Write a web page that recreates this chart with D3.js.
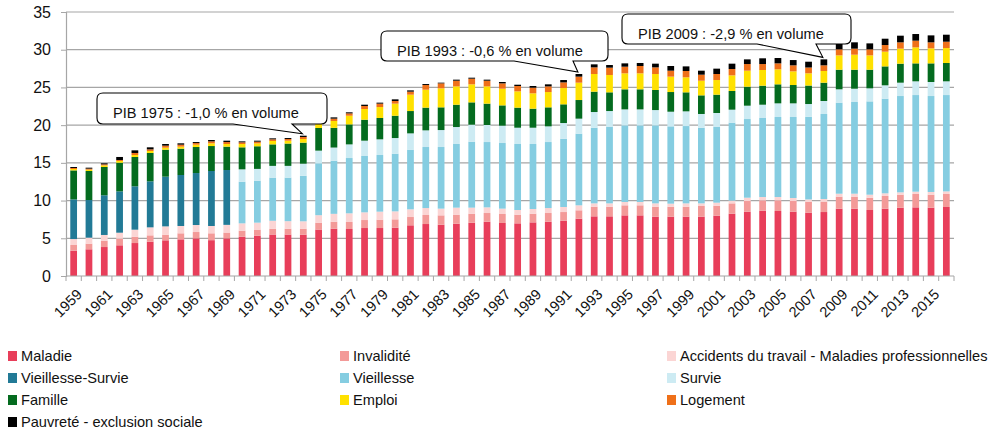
<!DOCTYPE html>
<html lang="fr">
<head>
    <meta charset="UTF-8">
    <script src="https://cdn.jsdelivr.net/npm/d3@7"></script>
    <title>prestations sociales</title>
    <style>
        body { margin: 0; background: #fff; }
        text { font-family: "Liberation Sans", Arial, sans-serif; fill: #111; }
    </style>
</head>
<body>
<svg id="chart" width="999" height="433"></svg>

<script>
    // valeurs (en % du PIB)
    let years = d3.range(1959, 2017);

    let maladie = [3.36, 3.54, 3.84, 4.07, 4.37, 4.55, 4.73, 4.86, 4.99, 4.75,
        4.99, 5.21, 5.35, 5.5, 5.5, 5.48, 6.16, 6.27, 6.23, 6.36,
        6.36, 6.41, 6.72, 6.89, 6.8, 6.94, 7.07, 7.2, 7.03, 6.98,
        7.11, 7.2, 7.34, 7.6, 7.91, 7.91, 8.04, 8.04, 7.87, 7.87,
        7.87, 7.87, 8.0, 8.26, 8.53, 8.66, 8.62, 8.53, 8.4, 8.48,
        8.93, 8.93, 8.75, 8.93, 9.06, 9.1, 9.06, 9.15];
    let invalidite = [0.75, 0.75, 0.84, 0.88, 0.84, 0.84, 0.75, 0.8, 0.84, 0.91,
        0.77, 0.8, 0.8, 0.77, 0.77, 0.79, 0.91, 0.93, 0.93, 1.06,
        1.11, 1.1, 1.1, 1.2, 1.24, 1.19, 1.19, 1.15, 1.19, 1.15,
        1.15, 1.15, 1.14, 1.11, 1.28, 1.28, 1.33, 1.33, 1.32, 1.32,
        1.32, 1.41, 1.32, 1.37, 1.41, 1.37, 1.41, 1.41, 1.43, 1.37,
        1.59, 1.59, 1.63, 1.68, 1.72, 1.77, 1.72, 1.72];
    let accidents = [0.79, 0.79, 0.76, 0.79, 0.93, 1.06, 1.1, 0.97, 0.93, 0.97,
        1.02, 0.97, 0.92, 1.05, 1.0, 0.98, 0.99, 1.04, 1.15, 1.02,
        1.06, 1.06, 1.02, 0.92, 0.89, 0.93, 0.8, 0.75, 0.71, 0.62,
        0.62, 0.66, 0.67, 0.66, 0.44, 0.44, 0.44, 0.44, 0.44, 0.4,
        0.44, 0.35, 0.4, 0.36, 0.44, 0.44, 0.44, 0.4, 0.32, 0.36,
        0.39, 0.39, 0.4, 0.35, 0.31, 0.31, 0.36, 0.35];
    let vieillesseSurvie = [5.26, 4.99, 5.26, 5.48, 5.75, 6.1, 6.59, 6.76, 6.89, 7.29,
        7.27, 0, 0, 0, 0, 0, 0, 0, 0, 0,
        0, 0, 0, 0, 0, 0, 0, 0, 0, 0,
        0, 0, 0, 0, 0, 0, 0, 0, 0, 0,
        0, 0, 0, 0, 0, 0, 0, 0, 0, 0,
        0, 0, 0, 0, 0, 0, 0, 0];
    let vieillesse = [0, 0, 0, 0, 0, 0, 0, 0, 0, 0,
        0, 5.52, 5.57, 5.72, 5.77, 6.03, 6.88, 7.05, 7.33, 7.47,
        7.51, 7.65, 7.91, 8.09, 8.17, 8.44, 8.75, 8.66, 8.7, 8.75,
        8.62, 8.75, 9.05, 9.5, 10.03, 10.17, 10.16, 10.16, 10.34, 10.25,
        10.25, 10.03, 10.08, 10.34, 10.43, 10.48, 10.61, 10.74, 10.95, 11.27,
        12.07, 12.16, 12.37, 12.55, 12.77, 12.81, 12.72, 12.77];
    let survie = [0, 0, 0, 0, 0, 0, 0, 0, 0, 0,
        0, 1.64, 1.56, 1.56, 1.56, 1.61, 1.68, 1.74, 1.81, 2.03,
        2.08, 2.07, 2.16, 2.21, 2.25, 2.25, 2.25, 2.26, 2.3, 2.16,
        2.16, 2.08, 2.08, 1.99, 2.08, 2.07, 2.12, 2.12, 2.03, 1.94,
        1.95, 1.82, 1.81, 1.72, 1.77, 1.76, 1.81, 1.81, 1.7, 1.72,
        1.77, 1.76, 1.73, 1.77, 1.77, 1.82, 1.86, 1.82];
    let famille = [3.84, 3.85, 3.75, 3.8, 3.89, 3.76, 3.58, 3.49, 3.45, 3.31,
        3.1, 2.92, 3.0, 2.85, 2.96, 2.79, 3.0, 2.61, 2.65, 2.78,
        2.83, 2.96, 2.96, 3.01, 3.01, 2.96, 2.96, 2.83, 2.69, 2.66,
        2.52, 2.52, 2.48, 2.47, 2.7, 2.48, 2.66, 2.66, 2.66, 2.61,
        2.52, 2.47, 2.43, 2.48, 2.52, 2.52, 2.52, 2.43, 2.45, 2.43,
        2.6, 2.52, 2.47, 2.51, 2.52, 2.38, 2.47, 2.43];
    let emploi = [0.18, 0.18, 0.22, 0.23, 0.26, 0.26, 0.26, 0.27, 0.31, 0.36,
        0.35, 0.44, 0.39, 0.45, 0.38, 0.48, 0.53, 0.91, 1.15, 1.42,
        1.45, 1.6, 2.17, 2.38, 2.52, 2.43, 2.39, 2.29, 2.21, 2.16,
        2.04, 2.03, 2.16, 2.3, 2.34, 2.3, 2.12, 2.12, 2.12, 2.04,
        1.99, 1.94, 1.94, 2.07, 2.12, 2.08, 1.99, 1.81, 1.62, 1.55,
        1.9, 1.99, 1.9, 1.95, 1.99, 2.12, 1.99, 1.98];
    let logement = [0.14, 0.13, 0.13, 0.13, 0.27, 0.22, 0.27, 0.26, 0.22, 0.26,
        0.26, 0.22, 0.22, 0.22, 0.22, 0.27, 0.27, 0.31, 0.31, 0.4,
        0.45, 0.35, 0.4, 0.62, 0.66, 0.75, 0.75, 0.75, 0.71, 0.71,
        0.75, 0.75, 0.75, 0.8, 0.88, 0.97, 0.88, 0.97, 0.88, 0.79,
        0.84, 0.8, 0.8, 0.84, 0.88, 0.79, 0.79, 0.8, 0.77, 0.75,
        0.8, 0.8, 0.8, 0.88, 0.84, 0.89, 0.8, 0.84];
    let pauvrete = [0.13, 0.13, 0.14, 0.4, 0.35, 0.27, 0.22, 0.18, 0.13, 0.18,
        0.18, 0.13, 0.13, 0.13, 0.13, 0.17, 0.18, 0.17, 0.14, 0.17,
        0.13, 0.22, 0.17, 0.13, 0.09, 0.14, 0.13, 0.14, 0.18, 0.17,
        0.22, 0.27, 0.31, 0.35, 0.4, 0.35, 0.44, 0.4, 0.49, 0.62,
        0.61, 0.53, 0.71, 0.71, 0.62, 0.76, 0.71, 0.7, 0.77, 0.79,
        0.79, 0.84, 0.79, 0.84, 0.88, 0.88, 0.92, 0.93];

    let seriesNames = ["Maladie", "Invalidité", "Accidents du travail - Maladies professionnelles",
        "Vieillesse-Survie", "Vieillesse", "Survie", "Famille", "Emploi", "Logement",
        "Pauvreté - exclusion sociale"];
    let seriesColors = ["#e83e5a", "#f39a98", "#fbd5d4", "#227a96", "#85cde1", "#cdebf3",
        "#046b1f", "#ffe100", "#ef7019", "#000000"];
    let seriesValues = [maladie, invalidite, accidents, vieillesseSurvie, vieillesse, survie,
        famille, emploi, logement, pauvrete];

    let yTicks = [0, 5, 10, 15, 20, 25, 30, 35];
    let xLabelYears = years.filter(y => (y - 1959) % 2 === 0);

    let annoYears = [1974, 1992, 2008];
    let annoLabels = ["PIB 1975 : -1,0 % en volume", "PIB 1993 : -0,6 % en volume", "PIB 2009 : -2,9 % en volume"];
</script>

<script>
    let svg = d3.select("#chart");
    let plotLeft = 66, plotRight = 954, plotTop = 12, plotBottom = 276;

    let rows = years.map((yr, i) => {
        let r = { year: yr };
        seriesNames.forEach((n, k) => r[n] = seriesValues[k][i]);
        return r;
    });
    let stacked = d3.stack().keys(seriesNames)(rows);

    let x = d3.scaleBand().domain(years).range([plotLeft, plotRight]).paddingInner(0.56).paddingOuter(0.28);
    let y = d3.scaleLinear().domain([0, 35]).range([plotBottom, plotTop]);

    // grille
    svg.append("g").selectAll("line").data(yTicks.filter(t => t > 0)).join("line")
        .attr("x1", plotLeft).attr("x2", plotRight)
        .attr("y1", d => y(d)).attr("y2", d => y(d))
        .attr("stroke", "#a6a6a6").attr("stroke-width", 1.2);

    // axe y
    let yAxis = svg.append("g").attr("transform", `translate(${plotLeft},0)`)
        .call(d3.axisLeft(y).tickValues(yTicks).tickSize(5).tickPadding(10));
    yAxis.select(".domain").attr("stroke", "#a6a6a6").attr("stroke-width", 1.2);
    yAxis.selectAll(".tick line").attr("stroke", "#a6a6a6");
    yAxis.selectAll("text").style("font-size", "16px").attr("fill", "#111")
        .style("font-family", "'Liberation Sans', Arial, sans-serif");

    // barres
    svg.append("g").selectAll("g").data(stacked).join("g")
        .attr("fill", (d, i) => seriesColors[i])
        .selectAll("rect").data(d => d).join("rect")
        .attr("x", d => x(d.data.year))
        .attr("width", x.bandwidth())
        .attr("y", d => y(d[1]))
        .attr("height", d => Math.max(0, y(d[0]) - y(d[1])));

    // axe x
    let step = x.step();
    svg.append("line").attr("x1", plotLeft).attr("x2", plotRight).attr("y1", plotBottom).attr("y2", plotBottom)
        .attr("stroke", "#a6a6a6").attr("stroke-width", 1.2);
    svg.append("g").selectAll("line").data(d3.range(years.length + 1)).join("line")
        .attr("x1", i => plotLeft + i * step).attr("x2", i => plotLeft + i * step)
        .attr("y1", plotBottom).attr("y2", plotBottom + 5)
        .attr("stroke", "#a6a6a6");
    svg.append("g").selectAll("text").data(xLabelYears).join("text")
        .attr("transform", d => `translate(${x(d) + x.bandwidth() / 2 + 2},${plotBottom + 12}) rotate(-45)`)
        .attr("text-anchor", "end")
        .attr("dy", "0.7em")
        .style("font-size", "14.6px")
        .text(d => d);

    // bulles PIB
    let boxes = [[97, 93, 327, 124], [381, 31, 608, 61], [622, 14, 851, 44]];
    let totals = years.map((yr, i) => d3.sum(seriesValues, s => s[i]));
    function bubble(b, tx, ty) {
        let [x0, y0, x1, y1] = b, r = 6;
        let b1 = x1 - 35, b0 = x1 - 94;
        return `M${x0 + r},${y0} H${x1 - r} Q${x1},${y0} ${x1},${y0 + r} V${y1 - r} Q${x1},${y1} ${x1 - r},${y1}` +
            ` H${b1} L${tx},${ty} L${b0},${y1} H${x0 + r} Q${x0},${y1} ${x0},${y1 - r} V${y0 + r} Q${x0},${y0} ${x0 + r},${y0} Z`;
    }
    annoYears.forEach((yr, k) => {
        let i = years.indexOf(yr);
        let tx = x(yr) + x.bandwidth() / 2 - 1;
        let ty = y(totals[i]) - 2;
        svg.append("path").attr("d", bubble(boxes[k], tx, ty))
            .attr("fill", "#fff").attr("stroke", "#000").attr("stroke-width", 1.1);
        svg.append("text").attr("x", boxes[k][0] + 16).attr("y", boxes[k][1] + 24.5)
            .style("font-size", "14.6px").text(annoLabels[k]);
    });

    // légende
    let colX = [8, 340, 667];
    let legend = svg.append("g").selectAll("g").data(seriesNames).join("g")
        .attr("transform", (d, i) => `translate(${colX[i % 3]},${356 + Math.floor(i / 3) * 22})`);
    legend.append("rect").attr("x", 0).attr("y", -5).attr("width", 9).attr("height", 10)
        .attr("fill", (d, i) => seriesColors[i]);
    legend.append("text").attr("x", 13).attr("dy", "0.35em")
        .style("font-size", "14.6px").text(d => d);
</script>
</body>
</html>
